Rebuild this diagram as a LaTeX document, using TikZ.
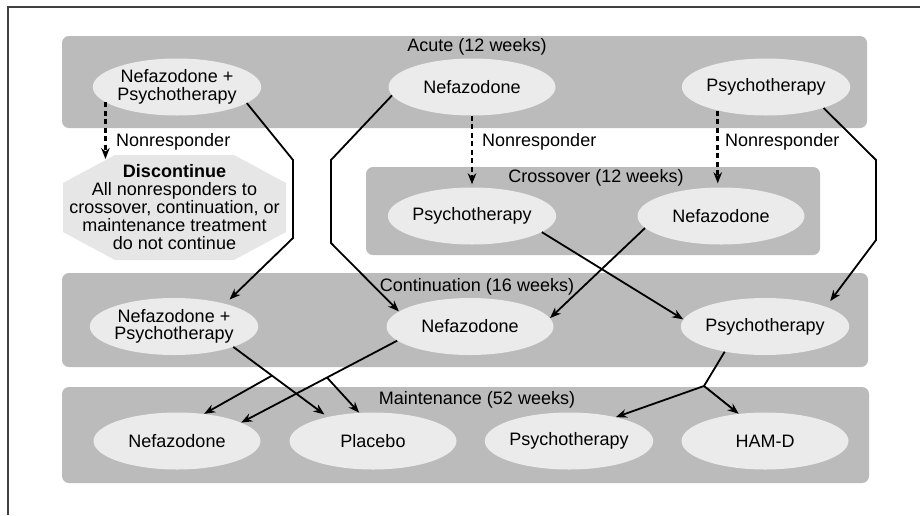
\documentclass[tikz,border=0pt]{standalone}
\usepackage{fontspec}
\setmainfont{Liberation Sans}
\usetikzlibrary{arrows.meta,calc,shapes.geometric}
\definecolor{bandgray}{RGB}{187,187,187}
\definecolor{ellgray}{RGB}{235,235,235}
\definecolor{octgray}{RGB}{230,230,230}
\definecolor{framegray}{RGB}{64,64,64}
\newcommand\dfont{\fontsize{18}{17.5}\selectfont}
\newcommand\discfont{\fontsize{18}{18}\selectfont}
\begin{document}
\begin{tikzpicture}[x=1pt,y=-1pt,
  band/.style={fill=bandgray, rounded corners=7pt, inner sep=0pt},
  ttl/.style={font=\dfont, inner sep=0pt},
  ell/.style={ellipse, fill=ellgray, minimum width=167pt, minimum height=57pt, inner sep=0pt, align=center, font=\dfont},
  lbl/.style={font=\dfont, inner sep=0pt, anchor=west},
  tip/.style={-{Stealth[length=11pt,width=8.5pt,inset=3.5pt]}},
  ln/.style={line width=1.8pt},
  arr/.style={ln, tip},
  dsh/.style={line width=2.6pt, dash pattern=on 5pt off 3.5pt, tip}
]
\useasboundingbox (0,0) rectangle (920,515);
% frame
\draw[framegray, line width=2pt] (8,515) -- (8,7) -- (920,7);

% bands
\node[band, minimum width=805pt, minimum height=92pt] (acute) at (464.5,82) {};
\node[band, minimum width=454pt, minimum height=88pt] (cross) at (593,211) {};
\node[band, minimum width=806pt, minimum height=94pt] (cont) at (465,320) {};
\node[band, minimum width=807pt, minimum height=96pt] (maint) at (465.5,435) {};

% titles
\node[ttl] (tA) at (477,47) {Acute (12 weeks)};
\node[ttl] (tX) at (596,178) {Crossover (12 weeks)};
\node[ttl] (tC) at (477,287) {Continuation (16 weeks)};
\node[ttl] (tM) at (477,400) {Maintenance (52 weeks)};

% ellipses
\node[ell] (aNP) at (177,87) {Nefazodone +\\Psychotherapy};
\node[ell] (aN) at (472,87) {Nefazodone};
\node[ell] (aP) at (766,87) {Psychotherapy};
\node[ell] (xP) at (472,216) {Psychotherapy};
\node[ell] (xN) at (721,216) {Nefazodone};
\node[ell] (cNP) at (174,326.5) {Nefazodone +\\Psychotherapy};
\node[ell] (cN) at (470,326.5) {Nefazodone};
\node[ell] (cP) at (765,326.5) {Psychotherapy};
\node[ell] (mN) at (177,441) {Nefazodone};
\node[ell] (mPl) at (373,441) {Placebo};
\node[ell] (mP) at (569,441) {Psychotherapy};
\node[ell] (mH) at (765,441) {HAM-D};

% discontinue octagon
\coordinate (dc) at (174.5,207.5);
\fill[octgray] ($(dc)+(-59.5,-52.5)$) -- ($(dc)+(59.5,-52.5)$) -- ($(dc)+(111.5,-24.5)$) -- ($(dc)+(111.5,24.5)$)
  -- ($(dc)+(59.5,52.5)$) -- ($(dc)+(-59.5,52.5)$) -- ($(dc)+(-111.5,24.5)$) -- ($(dc)+(-111.5,-24.5)$) -- cycle;
\node[font=\discfont, align=center, inner sep=0pt] (disc) at (dc)
  {\textbf{Discontinue}\\All nonresponders to\\crossover, continuation, or\\maintenance treatment\\do not continue};

% labels
\node[lbl] (l1) at (116,142) {Nonresponder};
\node[lbl] (l2) at (482,142) {Nonresponder};
\node[lbl] (l3) at (725,142) {Nonresponder};

% bend points
\coordinate (dtop) at (106,159);
\coordinate (k1) at (293,160);
\coordinate (k2) at (293,238);
\coordinate (k3) at (331,160);
\coordinate (k4) at (331,243);
\coordinate (k5) at (876,160);
\coordinate (k6) at (876,240);
\coordinate (b1) at ($(cNP.-19)!0.41!(mPl.152)$);
\coordinate (b2) at ($(cN.191)!0.45!(mN.16)$);
\coordinate (b3) at (704,386);

% dashed nonresponder arrows
\draw[dsh] (aNP.-168) -- (aNP.-168 |- dtop);
\draw[dsh, shorten >=3pt] (aN.south) -- (xP.north);
\draw[dsh, shorten >=4pt] (aP.206) -- (aP.206 |- xN.north);

% acute -> continuation
\draw[arr, shorten >=6pt] (aNP.-13) -- (k1) -- (k2) -- (cNP.24);
\draw[arr] (aN.186) -- (k3) -- (k4) -- (cN.168);
\draw[arr, shorten >=7pt] (aP.-20) -- (k5) -- (k6) -- (cP.18);

% crossover -> continuation
\draw[arr] (xP.-13) -- (cP.175);
\draw[arr] (xN.189) -- (cN.6);

% continuation -> maintenance
\draw[arr, shorten >=4pt] (cNP.-19) -- (mPl.152);
\draw[arr] (b1) -- (mN.45);
\draw[arr] (cN.191) -- (mN.16);
\draw[arr] (b2) -- (mPl.116);
\draw[ln] (cP.212) -- (b3);
\draw[arr] (b3) -- (mP.27);
\draw[arr] (b3) -- (mH.134);
\end{tikzpicture}
\end{document}
